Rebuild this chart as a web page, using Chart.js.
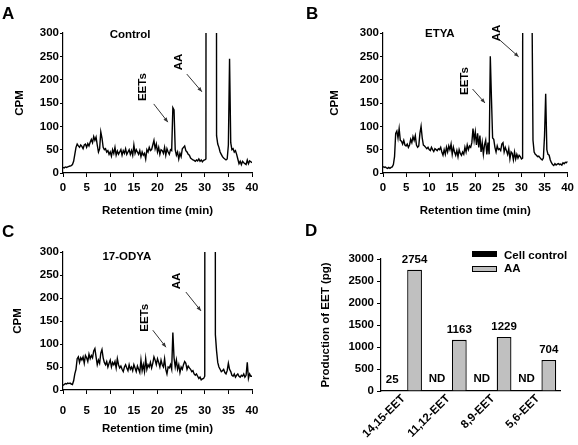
<!DOCTYPE html>
<html>
<head>
<meta charset="utf-8">
<script src="https://cdn.jsdelivr.net/npm/chart.js@4/dist/chart.umd.min.js"></script>
<style>
  html, body { margin: 0; padding: 0; background: #fff; }
  #wrap { position: relative; width: 578px; height: 445px; overflow: hidden; }
  canvas { position: absolute; left: 0; top: 0; }
  .tag { position: absolute; font: bold 17px "Liberation Sans", Arial, sans-serif; line-height: 17px; color: #000; }
</style>
</head>
<body>
<div id="wrap">
  <canvas id="chartA" width="578" height="445"></canvas>
  <canvas id="chartB" width="578" height="445"></canvas>
  <canvas id="chartC" width="578" height="445"></canvas>
  <canvas id="chartD" width="578" height="445"></canvas>
  <div class="tag" style="left:2px;top:5px">A</div>
  <div class="tag" style="left:306px;top:5px">B</div>
  <div class="tag" style="left:2px;top:223px">C</div>
  <div class="tag" style="left:305px;top:222px">D</div>
</div>
<script>
// sampling grid of the radio-HPLC traces (min), one reading every 0.25 min
const retentionTime = Array.from({ length: 161 }, (_, i) => i * 0.25);
const timeTicks = [0, 5, 10, 15, 20, 25, 30, 35, 40];

// CPM (values above 300 run off the top of the plot)
const cpmControl = [
  12, 11, 13, 12, 13, 14, 15, 16,
  18, 25, 40, 55, 62, 58, 55, 60,
  57, 52, 60, 62, 55, 63, 58, 66,
  72, 65, 78, 70, 77, 60, 45, 52,
  88, 75, 55, 50, 52, 45, 48, 40,
  45, 36, 50, 42, 55, 38, 47, 40,
  45, 50, 38, 48, 42, 52, 40, 45,
  50, 40, 48, 38, 60, 42, 50, 45,
  40, 48, 35, 45, 38, 42, 30, 50,
  45, 55, 48, 50, 60, 70, 52, 62,
  45, 55, 40, 50, 48, 42, 55, 38,
  52, 45, 40, 50, 48, 140, 135, 50,
  38, 45, 30, 42, 35, 52, 55, 58,
  48, 45, 40, 38, 32, 30, 28, 27,
  25, 28, 26, 30, 25, 28, 24, 27,
  28, 30, 5000, 5000, 5000, 5000, 5000, 5000,
  5000, 5000, 80, 62, 55, 45, 40, 35,
  32, 30, 28, 30, 60, 245, 65, 50,
  52, 45, 48, 40, 30, 20, 25, 18,
  25, 22, 20, 18, 28, 20, 26, 24,
  22
];
const cpmEtya = [
  14, 12, 13, 11, 10, 12, 10, 12,
  13, 18, 35, 85, 90, 75, 95, 70,
  68, 62, 70, 60, 58, 62, 55, 60,
  72, 65, 78, 70, 80, 60, 55, 58,
  85, 100, 75, 60, 58, 55, 52, 55,
  50, 48, 55, 50, 46, 52, 50, 48,
  52, 50, 55, 45, 38, 50, 40, 55,
  45, 58, 50, 62, 40, 55, 45, 38,
  48, 35, 50, 42, 38, 45, 40, 55,
  45, 60, 50, 58, 55, 65, 95, 70,
  88, 60, 85, 55, 80, 45, 65, 40,
  60, 70, 40, 65, 40, 250, 160, 75,
  72, 55, 45, 58, 50, 52, 48, 62,
  65, 45, 55, 48, 40, 52, 30, 45,
  42, 28, 45, 30, 40, 32, 38, 35,
  30, 32, 5000, 5000, 5000, 5000, 5000, 5000,
  5000, 400, 70, 45, 40, 38, 35, 36,
  33, 30, 28, 32, 80, 170, 50, 40,
  38, 28, 22, 18, 16, 20, 17, 19,
  20, 18, 19, 17, 22, 20, 23, 22,
  25
];
const cpmOdya = [
  10, 12, 14, 13, 15, 14, 15, 13,
  12, 20, 35, 45, 68, 72, 60, 70,
  65, 72, 58, 75, 70, 62, 78, 68,
  75, 70, 85, 90, 72, 55, 65, 58,
  80, 88, 70, 60, 55, 62, 50, 58,
  65, 50, 60, 55, 62, 48, 68, 55,
  48, 52, 45, 40, 50, 55, 48, 42,
  55, 45, 50, 42, 55, 48, 40, 52,
  45, 38, 65, 42, 55, 40, 68, 45,
  55, 50, 60, 48, 58, 72, 65, 55,
  68, 60, 50, 65, 55, 50, 68, 45,
  35, 50, 48, 55, 45, 125, 70, 50,
  65, 45, 55, 38, 50, 45, 55, 62,
  58, 45, 52, 48, 45, 40, 42, 35,
  32, 35, 30, 25, 28, 22, 24, 25,
  30, 5000, 5000, 5000, 5000, 5000, 5000, 5000,
  5000, 120, 85, 60, 50, 45, 40, 42,
  45, 38, 35, 42, 58, 45, 40, 32,
  30, 35, 28, 32, 35, 30, 28, 32,
  30, 35, 28, 32, 60, 25, 35, 30,
  30
];

// panel D
const eetNames = ["14,15-EET", "11,12-EET", "8,9-EET", "5,6-EET"];
const cellControl = [25, 0, 0, 0];
const withAA = [2754, 1163, 1229, 704];
const cellControlText = ["25", "ND", "ND", "ND"];
const withAAText = ["2754", "1163", "1229", "704"];

const FONT = '"Liberation Sans", Arial, sans-serif';
const font = (size) => ({ family: FONT, size, weight: "bold", lineHeight: 1.2 });

function drawArrow(ctx, x1, y1, x2, y2) {
  const a = Math.atan2(y2 - y1, x2 - x1);
  ctx.save();
  ctx.strokeStyle = "#333";
  ctx.fillStyle = "#333";
  ctx.lineWidth = 1;
  ctx.beginPath();
  ctx.moveTo(x1, y1);
  ctx.lineTo(x2, y2);
  ctx.stroke();
  ctx.beginPath();
  ctx.moveTo(x2, y2);
  ctx.lineTo(x2 - 5 * Math.cos(a - 0.4), y2 - 5 * Math.sin(a - 0.4));
  ctx.lineTo(x2 - 5 * Math.cos(a + 0.4), y2 - 5 * Math.sin(a + 0.4));
  ctx.closePath();
  ctx.fill();
  ctx.restore();
}

// labels and arrows on the traces, placed in data units
const traceNotes = {
  id: "traceNotes",
  afterDraw(chart, args, opts) {
    const { ctx, scales: { x, y } } = chart;
    ctx.save();
    ctx.fillStyle = "#000";
    ctx.font = "bold 11.5px " + FONT;
    ctx.textAlign = "center";
    ctx.textBaseline = "middle";
    ctx.fillText(opts.title.text, x.getPixelForValue(opts.title.x), y.getPixelForValue(opts.title.y));
    opts.rotated.forEach(r => {
      ctx.save();
      ctx.translate(x.getPixelForValue(r.x), y.getPixelForValue(r.y));
      ctx.rotate(-Math.PI / 2);
      ctx.fillText(r.text, 0, 0);
      ctx.restore();
    });
    ctx.restore();
    opts.arrows.forEach(a => drawArrow(ctx,
      x.getPixelForValue(a[0]), y.getPixelForValue(a[1]),
      x.getPixelForValue(a[2]), y.getPixelForValue(a[3])));
  }
};

function traceChart(id, values, area, yW, xH, tickPad, notes) {
  return new Chart(document.getElementById(id), {
    type: "line",
    data: {
      datasets: [{
        data: values.map((v, i) => ({ x: retentionTime[i], y: v })),
        borderColor: "#000",
        borderWidth: 1.4,
        pointRadius: 0,
        tension: 0
      }]
    },
    options: {
      responsive: false,
      animation: false,
      events: [],
      layout: {
        padding: { left: area.left - yW, top: area.top, right: 578 - area.right, bottom: 445 - area.bottom - xH }
      },
      plugins: { legend: { display: false }, tooltip: { enabled: false }, traceNotes: notes },
      scales: {
        x: {
          type: "linear", min: 0, max: 40,
          afterBuildTicks: s => { s.ticks = timeTicks.map(v => ({ value: v })); },
          afterFit: s => { s.height = xH; },
          border: { display: true, color: "#000", width: 1.2 },
          grid: { drawOnChartArea: false, drawTicks: true, tickLength: 4, color: "#000" },
          ticks: { color: "#000", font: font(11.5), padding: tickPad, maxRotation: 0 },
          title: { display: true, text: "Retention time (min)", color: "#000", font: font(11.5), padding: { top: 0, bottom: 0 } }
        },
        y: {
          min: 0, max: 300,
          afterFit: s => { s.width = yW; },
          border: { display: true, color: "#000", width: 1.2 },
          grid: { drawOnChartArea: false, drawTicks: true, tickLength: 3, color: "#000" },
          ticks: { color: "#000", font: font(11.5), stepSize: 50, padding: 1 },
          title: { display: true, text: "CPM", color: "#000", font: font(11.5), padding: { top: 0, bottom: 0 } }
        }
      }
    },
    plugins: [traceNotes]
  });
}

traceChart("chartA", cpmControl, { left: 63, top: 33, right: 252, bottom: 173 }, 50, 44.6, 4, {
  title: { text: "Control", x: 14.2, y: 296 },
  rotated: [{ text: "EETs", x: 16.9, y: 184 }, { text: "AA", x: 24.6, y: 238 }],
  arrows: [[19.2, 148, 22.2, 109], [26.2, 212, 29.4, 174]]
});
traceChart("chartB", cpmEtya, { left: 383, top: 33, right: 571, bottom: 173 }, 55, 44.6, 4, {
  title: { text: "ETYA", x: 12.3, y: 298 },
  rotated: [{ text: "EETs", x: 17.7, y: 197 }, { text: "AA", x: 24.7, y: 300 }],
  arrows: [[19.4, 180, 22.1, 150], [25.3, 285, 29.4, 249]]
});
traceChart("chartC", cpmOdya, { left: 63, top: 252, right: 252, bottom: 390 }, 52, 45.6, 10, {
  title: { text: "17-ODYA", x: 13.5, y: 289 },
  rotated: [{ text: "EETs", x: 17.4, y: 157 }, { text: "AA", x: 24.1, y: 237 }],
  arrows: [[19.0, 130, 21.8, 93], [26.0, 213, 29.2, 172]]
});

// value labels over the bars and the legend of panel D
const barNotes = {
  id: "barNotes",
  afterDraw(chart) {
    const { ctx } = chart;
    const texts = [cellControlText, withAAText];
    ctx.save();
    ctx.fillStyle = "#000";
    ctx.font = "bold 11.5px " + FONT;
    ctx.textAlign = "center";
    ctx.textBaseline = "middle";
    texts.forEach((list, d) => {
      chart.getDatasetMeta(d).data.forEach((bar, i) => {
        const yy = list[i] === "ND" ? bar.base - 12 : bar.y - 10;
        ctx.fillText(list[i], bar.x, yy);
      });
    });
    // legend
    ctx.fillRect(472, 251, 25, 6);
    ctx.fillStyle = "#c0c0c0";
    ctx.fillRect(472, 266, 25, 6);
    ctx.strokeStyle = "#000";
    ctx.lineWidth = 1;
    ctx.strokeRect(472.5, 266.5, 24, 5);
    ctx.fillStyle = "#000";
    ctx.textAlign = "left";
    ctx.fillText("Cell control", 504, 256);
    ctx.fillText("AA", 504, 269);
    ctx.restore();
  }
};

const areaD = { left: 381, top: 259, right: 560, bottom: 391 };
new Chart(document.getElementById("chartD"), {
  type: "bar",
  data: {
    labels: eetNames,
    datasets: [
      { label: "Cell control", data: cellControl, backgroundColor: "#000", borderColor: "#000", borderWidth: 1 },
      { label: "AA", data: withAA, backgroundColor: "#c0c0c0", borderColor: "#000", borderWidth: 1.3 }
    ]
  },
  options: {
    responsive: false,
    animation: false,
    events: [],
    layout: {
      padding: { left: areaD.left - 62, top: areaD.top, right: 578 - areaD.right, bottom: 445 - areaD.bottom - 50 }
    },
    datasets: { bar: { categoryPercentage: 1.0, barPercentage: 0.66 } },
    plugins: { legend: { display: false }, tooltip: { enabled: false } },
    scales: {
      x: {
        afterFit: s => { s.height = 50; },
        border: { display: true, color: "#000", width: 1.2 },
        grid: { display: false },
        ticks: { color: "#000", font: font(11.5), minRotation: 45, maxRotation: 45, padding: -7 }
      },
      y: {
        min: 0, max: 3000,
        afterFit: s => { s.width = 62; },
        border: { display: true, color: "#000", width: 1.2 },
        grid: { drawOnChartArea: false, drawTicks: true, tickLength: 4, color: "#000" },
        ticks: { color: "#000", font: font(11.5), stepSize: 500, padding: 3, callback: v => String(v) },
        title: { display: true, text: "Production of EET (pg)", color: "#000", font: font(11.5), padding: { top: 0, bottom: 0 } }
      }
    }
  },
  plugins: [barNotes]
});
</script>
</body>
</html>
